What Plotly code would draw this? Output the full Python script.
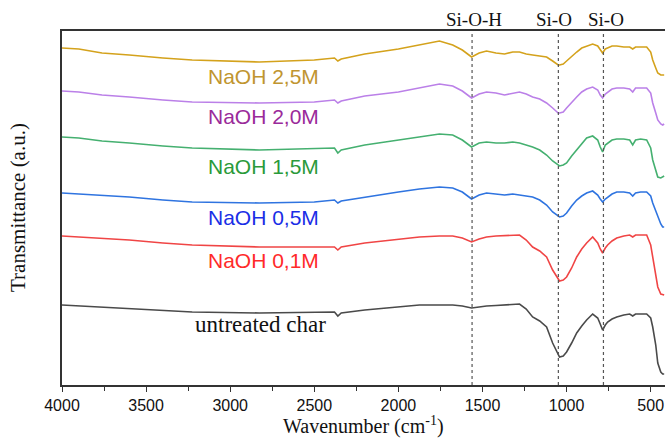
import plotly.graph_objects as go

# Wavenumber grid (cm-1)
wavenumber = [4000, 3900, 3762, 3700, 3600, 3400, 3226, 2827, 2500, 2380, 2360, 2340, 2200, 2000,
              1875, 1756, 1677, 1620, 1565, 1520, 1476, 1420, 1369, 1320, 1280, 1240, 1202, 1160,
              1119, 1083, 1050, 1042, 1020, 1000, 970, 940, 910, 881, 845, 815, 800, 786, 770,
              756, 730, 702, 660, 625, 607, 590, 560, 524, 500, 488, 470, 458, 440, 429, 420]

# Transmittance (a.u., offset stacked)
untreated = [78, 77, 76, 75, 74, 72, 71, 70, 70.5, 71, 67, 70, 73, 76,
             78, 78, 78, 77, 75, 76, 77, 77.5, 78, 78.5, 79, 74, 66, 62,
             56, 40, 28, 26, 27, 31, 40, 50, 57, 63, 69, 65, 59, 53, 58,
             61, 64, 66, 68, 69, 67, 69, 69, 69, 65, 56, 38, 20, 11, 9, 9]
naoh_01 = [147, 146, 145, 144, 143, 140, 138, 136, 136, 136, 133, 136, 140, 143.5,
           146, 147, 147, 145, 141, 144, 146, 147, 147.5, 148, 148, 143, 136, 132,
           126, 113, 103, 102, 103, 106, 115, 126, 134, 140, 146, 140, 134, 130, 135,
           138, 142, 145, 147, 148, 146, 148, 148, 148, 138, 126, 108, 96, 89, 88, 88]
naoh_05 = [190, 189, 188, 187, 186, 183, 181, 180, 181, 183, 180, 182, 186, 191,
           194, 196, 195, 191, 184, 188, 190, 189, 188, 189, 188, 187, 186, 183,
           178, 171, 167, 166, 167, 170, 177, 183, 187, 190, 192, 188, 184, 181, 184,
           186, 189, 191, 191, 190, 187, 190, 191, 191, 187, 180, 172, 165, 159, 156, 156]
naoh_15 = [246, 245, 242, 241, 240, 237, 235, 233, 234, 235, 230, 233, 238, 243,
           246, 249, 248, 243, 236, 240, 241, 240, 240, 241, 240, 238, 236, 233,
           228, 222, 218, 217, 218, 220, 227, 233, 240, 245, 247, 243, 236, 231, 238,
           240, 243, 244, 244, 243, 238, 243, 244, 243, 235, 223, 211, 206, 205, 206, 207]
naoh_20 = [292, 291, 288, 287, 286, 283, 281, 280, 281, 283, 280, 282, 287, 291,
           295, 299, 297, 292, 285, 289, 291, 290, 288, 290, 291, 289, 286, 284,
           280, 275, 270, 270, 271, 275, 281, 286, 291, 294, 296, 293, 288, 285, 289,
           291, 294, 295, 295, 294, 291, 295, 295, 295, 290, 280, 270, 263, 259, 258, 259]
naoh_25 = [335, 334, 330, 329, 328, 325, 323, 321, 323, 325, 322, 324, 329, 334,
           338, 342, 338, 333, 326, 330, 332, 330, 329, 331, 331, 329, 328, 327,
           326, 322, 318, 318, 319, 322, 327, 331, 335, 337, 339, 337, 333, 330, 334,
           335, 337, 337, 336, 336, 334, 336, 336, 336, 331, 323, 315, 310, 308, 308, 308]

series_names = ["untreated char", "NaOH 0,1M", "NaOH 0,5M", "NaOH 1,5M", "NaOH 2,0M", "NaOH 2,5M"]
series_values = [untreated, naoh_01, naoh_05, naoh_15, naoh_20, naoh_25]
line_colors = ["#4a4a4a", "#f04545", "#2f74e0", "#45b070", "#bb80e8", "#d4a21c"]
label_colors = ["#111111", "#ff2a2a", "#1a2ee6", "#2a9a3a", "#9a2a9a", "#c09530"]
label_x = [2820, 2800, 2800, 2800, 2800, 2800]
label_y = [59, 123, 166, 217, 267, 307]

band_positions = [1562, 1049, 781]
band_labels = ["Si-O-H", "Si-O", "Si-O"]
band_label_x = [1550, 1072, 768]

fig = go.Figure()
for name, vals, col in zip(series_names, series_values, line_colors):
    fig.add_trace(go.Scatter(x=wavenumber, y=vals, mode="lines", name=name,
                             line=dict(color=col, width=1.6), showlegend=False))

for name, lx, ly, col in zip(series_names, label_x, label_y, label_colors):
    if name == "untreated char":
        font = dict(family="Liberation Serif", size=23, color=col)
    else:
        font = dict(family="Liberation Sans", size=21, color=col)
    fig.add_annotation(x=lx, y=ly, xref="x", yref="y", text=name, showarrow=False, font=font)

for bp in band_positions:
    fig.add_shape(type="line", x0=bp, x1=bp, xref="x", y0=0, y1=1, yref="paper",
                  line=dict(color="#555555", width=1.2, dash="dot"))

for bl, bx in zip(band_labels, band_label_x):
    fig.add_annotation(x=bx, y=1.0, xref="x", yref="paper", yanchor="bottom", yshift=-1,
                       text=bl, showarrow=False,
                       font=dict(family="Liberation Serif", size=19, color="#111111"))

# axis titles as annotations for precise placement
fig.add_annotation(x=0.5, y=0, xref="paper", yref="paper", yanchor="top", yshift=-26,
                   text="Wavenumber (cm<sup>-1</sup>)", showarrow=False,
                   font=dict(family="Liberation Serif", size=20, color="#111111"))
fig.add_annotation(x=0, y=0.5, xref="paper", yref="paper", xanchor="right", xshift=-30,
                   text="Transmittance (a.u.)", textangle=-90, showarrow=False,
                   font=dict(family="Liberation Serif", size=21, color="#111111"))

fig.update_layout(
    width=665, height=438,
    margin=dict(l=62, r=0, t=31, b=53),
    paper_bgcolor="white", plot_bgcolor="white",
    xaxis=dict(range=[4000, 415], showgrid=False, zeroline=False, automargin=False,
               showline=True, linecolor="#333333", linewidth=1.5, mirror=True,
               ticks="outside", ticklen=5, tickwidth=1.2, tickcolor="#333333",
               tickvals=[4000, 3500, 3000, 2500, 2000, 1500, 1000, 500],
               ticktext=["4000", "3500", "3000", "2500", "2000", "1500", "1000", "500"],
               minor=dict(ticks="outside", ticklen=4, tickwidth=1.2, tickcolor="#333333", dtick=250, tick0=0),
               tickfont=dict(family="Liberation Sans", size=16, color="#111111")),
    yaxis=dict(range=[-2, 352], showgrid=False, zeroline=False, showticklabels=False, automargin=False,
               showline=True, linecolor="#333333", linewidth=1.5, ticks=""),
)

fig.write_html("out.html", config={"displayModeBar": False},
               post_script="document.body.style.margin='0px';document.body.style.overflow='hidden';")
